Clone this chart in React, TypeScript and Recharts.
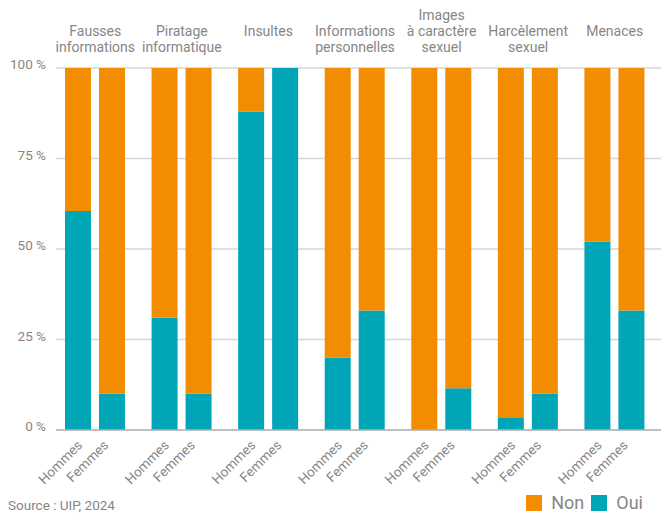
import { BarChart, Bar, XAxis, YAxis, CartesianGrid } from "recharts";

const categories = [
  "Fausses informations",
  "Piratage informatique",
  "Insultes",
  "Informations personnelles",
  "Images à caractère sexuel",
  "Harcèlement sexuel",
  "Menaces",
];
const categoryLines = [
  ["Fausses", "informations"],
  ["Piratage", "informatique"],
  ["Insultes"],
  ["Informations", "personnelles"],
  ["Images", "à caractère", "sexuel"],
  ["Harcèlement", "sexuel"],
  ["Menaces"],
];
const hommesOui = [60.5, 31, 88, 20, 0, 3.5, 52];
const hommesNon = [39.5, 69, 12, 80, 100, 96.5, 48];
const femmesOui = [10, 10, 100, 33, 11.5, 10, 33];
const femmesNon = [90, 90, 0, 67, 88.5, 90, 67];
const yTicks = [0, 25, 50, 75, 100];

const ORANGE = "#f28c00";
const TEAL = "#00a5b8";
const GREY = "#868686";
const FONT = "Roboto, 'Noto Sans', sans-serif";

const rows = categories.map((c, i) => ({
  category: c,
  hOui: hommesOui[i],
  hNon: hommesNon[i],
  fOui: femmesOui[i],
  fNon: femmesNon[i],
}));

function YTick({ x, y, payload }: any) {
  return (
    <text x={x} y={y + 1} textAnchor="end" fill={GREY} fontSize={13.5} fontFamily={FONT}>
      {payload.value} %
    </text>
  );
}

function TopTick({ x, y, payload }: any) {
  const lines = categoryLines[payload.index] || [];
  const start = lines.length === 3 ? 0 : 1;
  return (
    <g>
      {lines.map((l, i) => (
        <text
          key={i}
          x={x}
          y={y - 46 + (start + i) * 16}
          textAnchor="middle"
          fill={GREY}
          fontSize={14}
          fontFamily={FONT}
        >
          {l}
        </text>
      ))}
    </g>
  );
}

function BottomTick({ x, y }: any) {
  const ay = y + 14;
  return (
    <g>
      <text
        x={x - 12}
        y={ay}
        textAnchor="end"
        transform={`rotate(-45 ${x - 12} ${ay})`}
        fill={GREY}
        fontSize={13.5}
        fontFamily={FONT}
      >
        Hommes
      </text>
      <text
        x={x + 14}
        y={ay}
        textAnchor="end"
        transform={`rotate(-45 ${x + 14} ${ay})`}
        fill={GREY}
        fontSize={13.5}
        fontFamily={FONT}
      >
        Femmes
      </text>
    </g>
  );
}

export default function App() {
  return (
    <div style={{ position: "relative", width: 661, height: 516, fontFamily: FONT }}>
      <style>{"body{margin:0}"}</style>
      <BarChart
        width={661}
        height={516}
        data={rows}
        margin={{ top: 18, right: 0, bottom: 26, left: 0 }}
        barSize={26}
        barGap={8}
      >
        <CartesianGrid vertical={false} stroke="#d6d6d6" strokeWidth={1.5} />
        <XAxis
          dataKey="category"
          height={60}
          interval={0}
          padding={{ left: -4, right: 3 }}
          tickLine={false}
          tickSize={0}
          axisLine={{ stroke: "#b5b5b5", strokeWidth: 1.5 }}
          tick={<BottomTick />}
        />
        <XAxis
          xAxisId="top"
          orientation="top"
          dataKey="category"
          height={50}
          interval={0}
          padding={{ left: -4, right: 3 }}
          tickLine={false}
          tickSize={0}
          axisLine={false}
          tick={<TopTick />}
        />
        <YAxis
          width={56}
          domain={[0, 100]}
          ticks={yTicks}
          tickLine={false}
          tickSize={0}
          tickMargin={10}
          axisLine={false}
          tick={<YTick />}
        />
        <Bar dataKey="hOui" stackId="h" fill={TEAL} isAnimationActive={false} />
        <Bar dataKey="hNon" stackId="h" fill={ORANGE} isAnimationActive={false} />
        <Bar dataKey="fOui" stackId="f" fill={TEAL} isAnimationActive={false} />
        <Bar dataKey="fNon" stackId="f" fill={ORANGE} isAnimationActive={false} />
      </BarChart>
      <div
        style={{ position: "absolute", left: 8, top: 497, fontSize: 13.5, color: GREY }}
      >
        Source : UIP, 2024
      </div>
      <div
        style={{
          position: "absolute",
          right: 18,
          top: 492,
          display: "flex",
          alignItems: "center",
          fontSize: 18,
          color: GREY,
        }}
      >
        <span style={{ width: 16, height: 16, background: ORANGE, marginRight: 9 }} />
        <span style={{ marginRight: 7 }}>Non</span>
        <span style={{ width: 16, height: 16, background: TEAL, marginRight: 9 }} />
        <span>Oui</span>
      </div>
    </div>
  );
}
